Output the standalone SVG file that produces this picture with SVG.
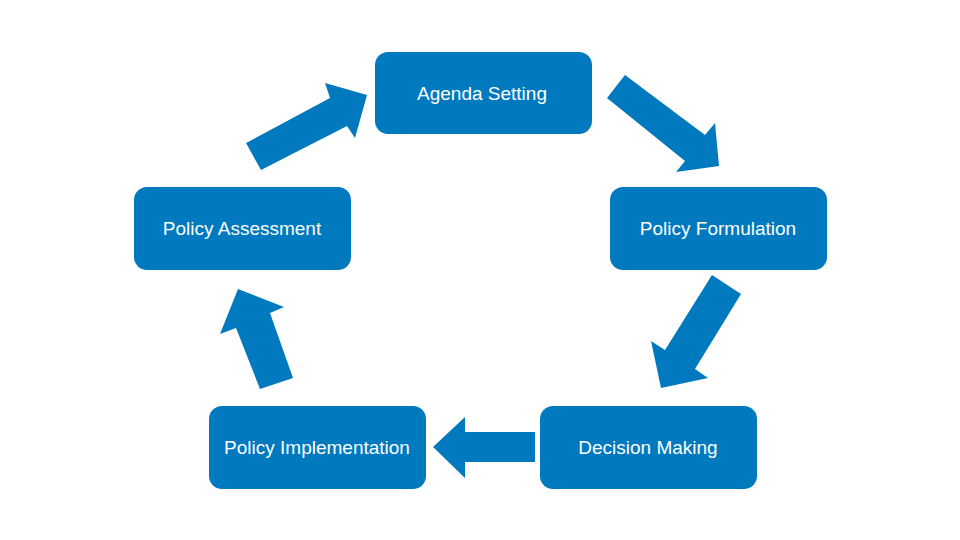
<svg xmlns="http://www.w3.org/2000/svg" width="960" height="540" viewBox="0 0 960 540">
<style>
.box{fill:#0079BE}
.lbl{fill:#ffffff;font-family:"Liberation Sans",Arial,sans-serif;font-size:19px;text-anchor:middle}
.arr{fill:#0079BE}
</style>
<rect width="960" height="540" fill="#ffffff"/>
<g id="connectors">
<polygon class="arr" points="246,143 330,98 325,83 367,95 355,138 347,126 261,170"/>
<polygon class="arr" points="625,75 705,135 715,123 719,166 676,172 685,161 607,98"/>
<polygon class="arr" points="712,275 741,294 695,369 708,378 661,388 651,341 665,350"/>
<polygon class="arr" points="535,432 465,432 465,417 433,447 465,478 465,462 535,462"/>
<polygon class="arr" points="260,389 236,328 220,334 238,289 284,307 270,313 293,378"/>
</g>
<g id="agenda-setting">
<rect class="box" x="375" y="52" width="217" height="82" rx="13"/>
<text class="lbl" x="482" y="100">Agenda Setting</text>
</g>
<g id="policy-formulation">
<rect class="box" x="610" y="187" width="217" height="83" rx="13"/>
<text class="lbl" x="718" y="235">Policy Formulation</text>
</g>
<g id="decision-making">
<rect class="box" x="540" y="406" width="217" height="83" rx="13"/>
<text class="lbl" x="648" y="454">Decision Making</text>
</g>
<g id="policy-implementation">
<rect class="box" x="209" y="406" width="217" height="83" rx="13"/>
<text class="lbl" x="317" y="454">Policy Implementation</text>
</g>
<g id="policy-assessment">
<rect class="box" x="134" y="187" width="217" height="83" rx="13"/>
<text class="lbl" x="242" y="235">Policy Assessment</text>
</g>
</svg>
